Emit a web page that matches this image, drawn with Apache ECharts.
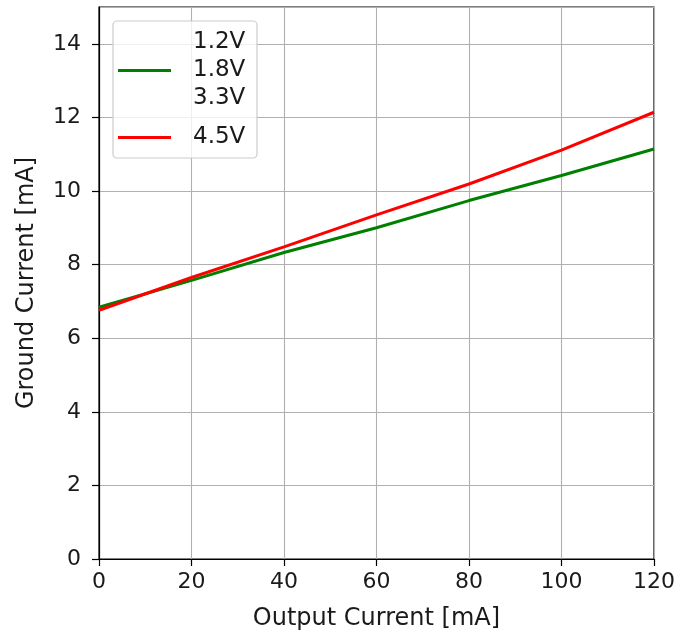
<!DOCTYPE html>
<html>
<head>
<meta charset="utf-8">
<script src="https://cdn.jsdelivr.net/npm/echarts@6/dist/echarts.min.js"></script>
<style>
  html, body { margin: 0; padding: 0; background: #fff; }
  #chart { width: 691px; height: 637px; }
</style>
</head>
<body>
<div id="chart"></div>
<script>
// Output current sweep [mA]
const outputCurrent = [0, 20, 40, 60, 80, 100, 120];

// Ground current [mA] per supply voltage
const seriesNames = ['1.2V', '1.8V', '3.3V', '4.5V'];
const ground12 = [];
const ground18 = [6.84, 7.57, 8.33, 9.00, 9.74, 10.42, 11.14];
const ground33 = [];
const ground45 = [6.76, 7.65, 8.48, 9.35, 10.19, 11.11, 12.14];

const xTicks = [0, 20, 40, 60, 80, 100, 120];
const yTicks = [0, 2, 4, 6, 8, 10, 12, 14];

const FONT = 'DejaVu Sans';
const TICK_SIZE = 22;
const LEGEND_SIZE = 23;
const NAME_SIZE = 24;
const TEXT = '#1a1a1a';

function pairs(xs, ys) {
  return ys.map((y, i) => [xs[i], y]);
}

const chart = echarts.init(document.getElementById('chart'), null, { renderer: 'canvas' });

const lineSeries = (name, data, color) => ({
  name: name,
  type: 'line',
  data: pairs(outputCurrent, data),
  symbol: 'none',
  smooth: false,
  color: color,
  itemStyle: { color: color },
  lineStyle: { color: color, width: 3 },
  emphasis: { disabled: true },
  animation: false
});

const legendCommon = {
  orient: 'vertical',
  left: 118,
  padding: 0,
  icon: 'rect',
  itemWidth: 53,
  itemHeight: 3,
  itemGap: 5,
  selectedMode: false,
  z: 10,
  textStyle: {
    fontFamily: FONT,
    fontSize: LEGEND_SIZE,
    color: TEXT,
    lineHeight: 23,
    padding: [0, 0, 0, 17]
  }
};

chart.setOption({
  backgroundColor: '#ffffff',
  animation: false,
  grid: {
    left: 99, right: 37, top: 7, bottom: 78,
    show: true,
    borderColor: '#000',
    borderWidth: 1.2,
    containLabel: false
  },
  xAxis: {
    type: 'value',
    min: 0, max: 120, interval: 20,
    name: 'Output Current [mA]',
    nameLocation: 'middle',
    nameGap: 48,
    nameTextStyle: { fontFamily: FONT, fontSize: NAME_SIZE, color: TEXT },
    axisLine: { show: true, lineStyle: { color: '#000', width: 1.2 } },
    axisTick: { show: true, inside: false, length: 7, lineStyle: { color: '#000', width: 1.2 } },
    axisLabel: {
      fontFamily: FONT, fontSize: TICK_SIZE, color: TEXT, margin: 12,
      formatter: v => xTicks.includes(v) ? String(v) : ''
    },
    splitLine: { show: true, lineStyle: { color: '#b0b0b0', width: 1.1 } }
  },
  yAxis: {
    type: 'value',
    min: 0, max: 15, interval: 2,
    name: 'Ground Current [mA]',
    nameLocation: 'middle',
    nameGap: 60,
    nameTextStyle: { fontFamily: FONT, fontSize: NAME_SIZE, color: TEXT },
    axisLine: { show: true, lineStyle: { color: '#000', width: 1.2 } },
    axisTick: { show: true, inside: false, length: 7, lineStyle: { color: '#000', width: 1.2 } },
    axisLabel: {
      fontFamily: FONT, fontSize: TICK_SIZE, color: TEXT, margin: 18,
      showMaxLabel: false,
      formatter: v => yTicks.includes(v) ? String(v) : ''
    },
    splitLine: { show: true, lineStyle: { color: '#b0b0b0', width: 1.1 } }
  },
  legend: [
    Object.assign({}, legendCommon, { top: 31, data: seriesNames.slice(0, 3) }),
    Object.assign({}, legendCommon, { top: 126, data: seriesNames.slice(3) })
  ],
  graphic: [{
    type: 'rect',
    z: 9,
    shape: { x: 113, y: 21, width: 144, height: 137, r: 4 },
    style: { fill: 'rgba(255,255,255,0.8)', stroke: '#cccccc', lineWidth: 1.2 }
  }],
  series: [
    lineSeries(seriesNames[0], ground12, 'rgba(0,0,0,0)'),
    lineSeries(seriesNames[1], ground18, '#008000'),
    lineSeries(seriesNames[2], ground33, 'rgba(0,0,0,0)'),
    lineSeries(seriesNames[3], ground45, '#ff0000')
  ]
});
</script>
</body>
</html>
